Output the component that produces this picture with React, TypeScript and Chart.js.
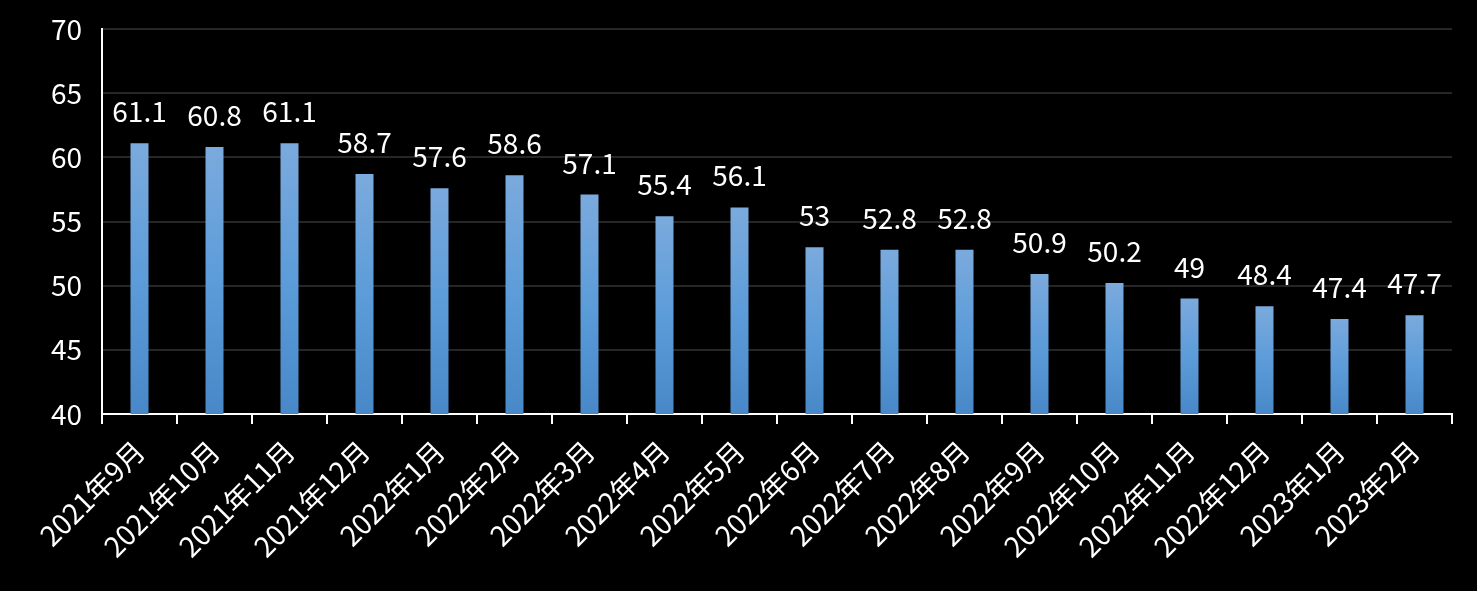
import React, { useEffect, useRef } from "react";
import { Chart, registerables } from "chart.js";

Chart.register(...registerables);

const categories = [
  "2021年9月", "2021年10月", "2021年11月", "2021年12月", "2022年1月", "2022年2月",
  "2022年3月", "2022年4月", "2022年5月", "2022年6月", "2022年7月", "2022年8月",
  "2022年9月", "2022年10月", "2022年11月", "2022年12月", "2023年1月", "2023年2月",
];
const values = [61.1, 60.8, 61.1, 58.7, 57.6, 58.6, 57.1, 55.4, 56.1, 53, 52.8, 52.8, 50.9, 50.2, 49, 48.4, 47.4, 47.7];
const yMin = 40;
const yMax = 70;
const yStep = 5;

const FONT = "'Noto Sans CJK SC', 'Noto Sans', sans-serif";

const valueLabels = {
  id: "valueLabels",
  afterDatasetsDraw(chart: any) {
    const ctx = chart.ctx;
    const meta = chart.getDatasetMeta(0);
    ctx.save();
    ctx.fillStyle = "#ffffff";
    ctx.font = `28px ${FONT}`;
    ctx.textAlign = "center";
    ctx.textBaseline = "alphabetic";
    meta.data.forEach((bar: any, i: number) => {
      ctx.fillText(String(values[i]), bar.x, bar.y - 21);
    });
    ctx.restore();
  },
};

export default function App() {
  const ref = useRef<HTMLCanvasElement>(null);
  useEffect(() => {
    document.body.style.margin = "0";
    document.body.style.background = "#000";
    const canvas = ref.current!;
    const chart = new Chart(canvas, {
      type: "bar",
      data: {
        labels: categories,
        datasets: [
          {
            data: values,
            backgroundColor: (c: any) => {
              const ch = c.chart;
              const ys = ch.scales?.y;
              if (!ys || !ch.chartArea || c.parsed == null) return "#5b9bd5";
              const top = ys.getPixelForValue(c.parsed.y);
              const bottom = ys.getPixelForValue(yMin);
              if (!isFinite(top) || !isFinite(bottom) || top === bottom) return "#5b9bd5";
              const g = ch.ctx.createLinearGradient(0, top, 0, bottom);
              g.addColorStop(0, "#7baadd");
              g.addColorStop(0.5, "#5c9cd9");
              g.addColorStop(1, "#4888c8");
              return g;
            },
            borderWidth: 0,
            categoryPercentage: 1,
            barPercentage: 0.24,
          },
        ],
      },
      options: {
        responsive: false,
        animation: false,
        layout: { padding: { top: 29, right: 25, left: 0, bottom: 0 } },
        plugins: { legend: { display: false }, tooltip: { enabled: false } },
        scales: {
          x: {
            offset: true,
            grid: {
              display: true,
              drawOnChartArea: false,
              drawTicks: true,
              tickLength: 10,
              color: "#ffffff",
              lineWidth: 2,
              offset: true,
            },
            border: { display: true, color: "#ffffff", width: 2 },
            ticks: {
              color: "#ffffff",
              font: { family: FONT, size: 28 },
              maxRotation: 45,
              minRotation: 45,
              autoSkip: false,
              padding: 10,
            },
            afterFit: (s: any) => {
              s.height = 177;
              s.paddingLeft = 0;
              s.paddingRight = 0;
            },
          },
          y: {
            min: yMin,
            max: yMax,
            grid: { color: "#262626", lineWidth: 2, drawTicks: false },
            border: { display: true, color: "#ffffff", width: 2 },
            ticks: {
              stepSize: yStep,
              color: "#ffffff",
              font: { family: FONT, size: 28 },
              padding: 20,
            },
            afterFit: (s: any) => {
              s.width = 102;
              s.paddingTop = 0;
              s.paddingBottom = 0;
            },
          },
        },
      },
      plugins: [valueLabels],
    });
    return () => chart.destroy();
  }, []);
  return (
    <div style={{ width: 1477, height: 591, background: "#000" }}>
      <canvas ref={ref} width={1477} height={591} style={{ display: "block" }} />
    </div>
  );
}
